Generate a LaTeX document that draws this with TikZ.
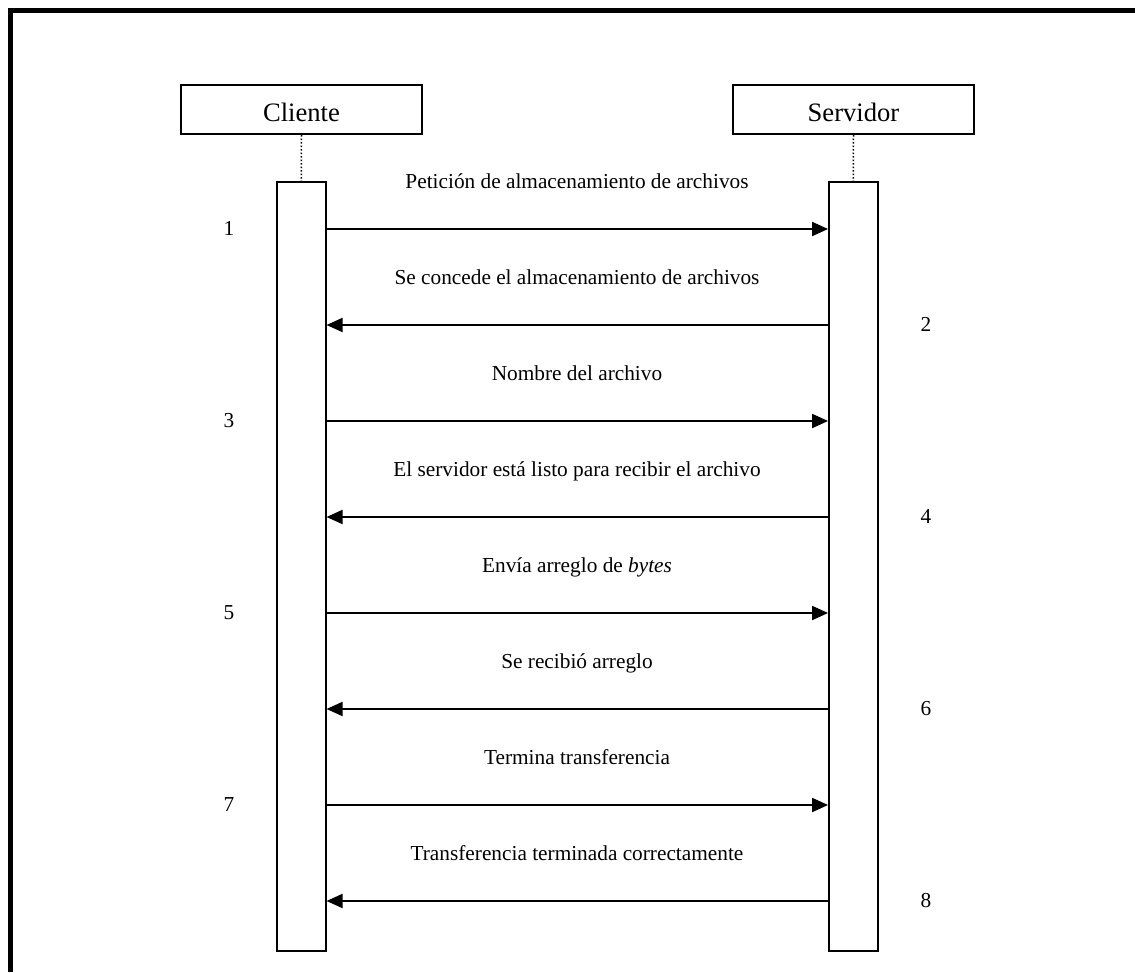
\documentclass[tikz,border=0pt]{standalone}
\usepackage{fontspec}
\setmainfont{Liberation Serif}
\usetikzlibrary{arrows.meta}
\tikzset{
  actor/.style={draw, line width=2pt, minimum width=241pt, minimum height=49pt, inner sep=0pt, font=\fontsize{26.6}{30}\selectfont},
  bar/.style={draw, line width=2pt, minimum width=48.5pt, minimum height=769pt, inner sep=0pt, anchor=north},
  life/.style={line width=1.5pt, dotted},
  msg/.style={line width=2pt, -{Triangle[length=16pt,width=14pt]}},
  lbl/.style={anchor=base, inner sep=0pt, font=\fontsize{21.3}{24}\selectfont},
  num/.style={anchor=base, inner sep=0pt, font=\fontsize{21.3}{24}\selectfont}
}
\begin{document}
\begin{tikzpicture}[x=1pt,y=-1pt]
\useasboundingbox (0,0) rectangle (1135,972);
\draw[line width=5pt] (10.5,972) -- (10.5,10.5) -- (1135,10.5);
\node[actor] (cli) at (301.5,109.5) {};
\node[anchor=base, inner sep=0pt, font=\fontsize{26.6}{30}\selectfont] (clit) at (301.5,121) {Cliente};
\node[actor] (srv) at (853.5,109.5) {};
\node[anchor=base, inner sep=0pt, font=\fontsize{26.6}{30}\selectfont] (srvt) at (853.5,121) {Servidor};
\node[bar] (cbar) at (301.3,181) {};
\node[bar] (sbar) at (853.3,181) {};
\draw[life] (cli.south) -- (cbar.north);
\draw[life] (srv.south) -- (sbar.north);
% messages
\draw[msg] (cbar.east |- {0,229}) -- (sbar.west |- {0,229});
\draw[msg] (sbar.west |- {0,325}) -- (cbar.east |- {0,325});
\draw[msg] (cbar.east |- {0,421}) -- (sbar.west |- {0,421});
\draw[msg] (sbar.west |- {0,517}) -- (cbar.east |- {0,517});
\draw[msg] (cbar.east |- {0,613}) -- (sbar.west |- {0,613});
\draw[msg] (sbar.west |- {0,709}) -- (cbar.east |- {0,709});
\draw[msg] (cbar.east |- {0,805}) -- (sbar.west |- {0,805});
\draw[msg] (sbar.west |- {0,901}) -- (cbar.east |- {0,901});
% labels
\node[lbl] (l1) at (577,188) {Petición de almacenamiento de archivos};
\node[lbl] (l2) at (577,284) {Se concede el almacenamiento de archivos};
\node[lbl] (l3) at (577,380) {Nombre del archivo};
\node[lbl] (l4) at (577,476) {El servidor está listo para recibir el archivo};
\node[lbl] (l5) at (577,572) {Envía arreglo de \textit{bytes}};
\node[lbl] (l6) at (577,668) {Se recibió arreglo};
\node[lbl] (l7) at (577,764) {Termina transferencia};
\node[lbl] (l8) at (577,860) {Transferencia terminada correctamente};
% numbers
\node[num] (n1) at (229,235) {1};
\node[num] (n2) at (926,331) {2};
\node[num] (n3) at (229,427) {3};
\node[num] (n4) at (926,523) {4};
\node[num] (n5) at (229,619) {5};
\node[num] (n6) at (926,715) {6};
\node[num] (n7) at (229,811) {7};
\node[num] (n8) at (926,907) {8};
\end{tikzpicture}
\end{document}
